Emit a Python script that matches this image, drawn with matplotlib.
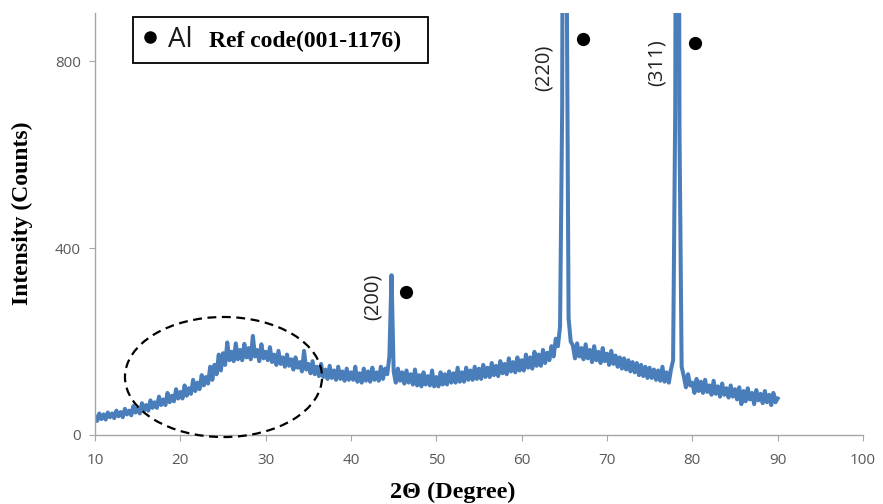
import numpy as np
import matplotlib
matplotlib.use("Agg")
import matplotlib.pyplot as plt
from matplotlib.patches import Ellipse, Rectangle

# 2-theta grid, 0.25 deg steps from 10 to 90
two_theta = np.arange(10, 90.001, 0.25)

# intensity (counts), 4 values per degree
counts = [
    40, 30, 46, 34,     44, 33, 48, 38,     46, 36, 52, 40,     49, 38, 56, 44,     # 10-13
    52, 42, 62, 48,     57, 46, 68, 52,     64, 52, 74, 58,     70, 58, 82, 64,     # 14-17
    76, 64, 90, 70,     84, 72, 98, 78,     92, 78, 106, 84,    100, 88, 118, 94,   # 18-21
    112, 98, 128, 106,  124, 110, 146, 118, 150, 130, 172, 138, 175, 150, 198, 160, # 22-25
    178, 158, 196, 162, 182, 160, 195, 166, 186, 162, 212, 168, 182, 158, 194, 164, # 26-29
    178, 160, 188, 156, 172, 150, 180, 152, 166, 146, 172, 148, 162, 140, 166, 144, # 30-33
    156, 136, 180, 140, 152, 132, 158, 130, 146, 126, 152, 124, 140, 120, 148, 122, # 34-37
    138, 118, 146, 120, 136, 116, 142, 118, 134, 118, 146, 114, 132, 112, 142, 116, # 38-41
    136, 114, 144, 118, 134, 116, 146, 120, 142, 130, 168, 342, 136, 112, 142, 116, # 42-45
    134, 110, 138, 112, 130, 108, 140, 106, 128, 104, 134, 108, 126, 106, 138, 104, # 46-49
    124, 104, 134, 108, 130, 108, 136, 112, 132, 112, 144, 114, 134, 114, 144, 118, # 50-53
    138, 118, 146, 120, 142, 120, 150, 124, 144, 124, 154, 128, 148, 126, 158, 132, # 54-57
    152, 130, 164, 136, 156, 134, 166, 138, 160, 138, 172, 144, 166, 142, 178, 148, # 58-61
    172, 148, 182, 154, 176, 160, 190, 168, 206, 190, 232, 700, 2600, 1100, 250, 200, # 62-65
    192, 164, 196, 168, 186, 162, 194, 164, 182, 156, 190, 160, 178, 154, 186, 158, # 66-69
    174, 150, 180, 152, 170, 146, 166, 142, 164, 140, 160, 136, 156, 134, 154, 128, # 70-73
    150, 126, 146, 122, 144, 122, 140, 118, 138, 116, 146, 114, 134, 112, 140, 160, # 74-77
    700, 2600, 650, 146, 126, 102, 130, 106, 112, 90, 120, 94,  114, 90, 118, 92,   # 78-81
    106, 86, 116, 88,   104, 82, 110, 86,   100, 80, 106, 82,   98, 76, 102, 66,    # 82-85
    94, 72, 100, 76,    90, 66, 96, 74,     88, 68, 94, 70,     86, 64, 90, 70,     # 86-89
    78,                                                                             # 90
]

peak_labels = ["(200)", "(220)", "(311)"]
label_pos = [(42.6, 295), (62.6, 785), (75.8, 798)]
dot_pos = [(46.45, 306), (67.2, 847), (80.3, 838)]

fig = plt.figure(figsize=(8.83, 5.04), dpi=100)
ax = fig.add_axes([0.1076, 0.137, 0.8697, 0.837])

ax.plot(two_theta, counts, color="#4a7ebb", lw=2.9, zorder=2)

ax.set_xlim(10, 100)
ax.set_ylim(0, 903)
ax.set_xticks(np.arange(10, 101, 10))
ax.set_yticks([0, 400, 800])
for s in ["top", "right"]:
    ax.spines[s].set_visible(False)
for s in ["left", "bottom"]:
    ax.spines[s].set_color("#a6a6a6")
    ax.spines[s].set_linewidth(1.0)
ax.tick_params(colors="#a6a6a6", labelcolor="#595959", length=4, labelsize=11)
for lab in ax.get_xticklabels() + ax.get_yticklabels():
    lab.set_family("Open Sans")
ax.tick_params(axis="x", pad=9)
ax.tick_params(axis="y", pad=6)

fig.text(22 / 883, 1 - 213 / 504, "Intensity (Counts)", rotation=90,
         family="Liberation Serif", fontweight="bold", fontsize=17,
         ha="center", va="center")
fig.text(453 / 883, 1 - 492 / 504, "2\u0398 (Degree)", family="Liberation Serif",
         fontweight="bold", fontsize=17.5, ha="center", va="center")

# peak labels and phase dots
for txt, (x, y) in zip(peak_labels, label_pos):
    ax.text(x, y, txt, rotation=90, ha="center", va="center", fontsize=14.5,
            family="Open Sans", color="#222222")
for x, y in dot_pos:
    ax.plot(x, y, "o", color="black", ms=8.5, zorder=3)

# amorphous hump
ax.add_patch(Ellipse((25.06, 124), 23.1, 257, fill=False, ls=(0, (4, 2.5)),
                     lw=1.6, color="black", clip_on=False, zorder=4))

# legend box
ax.add_patch(Rectangle((0.0495, 0.8815), 0.3841, 0.109, transform=ax.transAxes,
                       facecolor="white", edgecolor="black", lw=1.3, zorder=5,
                       clip_on=False))
ax.plot(0.0716, 0.943, "o", color="black", ms=8, transform=ax.transAxes, zorder=6,
        clip_on=False)
ax.text(0.095, 0.936, "Al", transform=ax.transAxes, fontsize=20, family="Open Sans",
        va="center", ha="left", color="#1a1a1a", zorder=6)
ax.text(0.148, 0.932, "Ref code(001-1176)", transform=ax.transAxes, fontsize=17,
        family="Liberation Serif", fontweight="bold", va="center", ha="left", zorder=6)

fig.savefig("out.png", dpi=100)
